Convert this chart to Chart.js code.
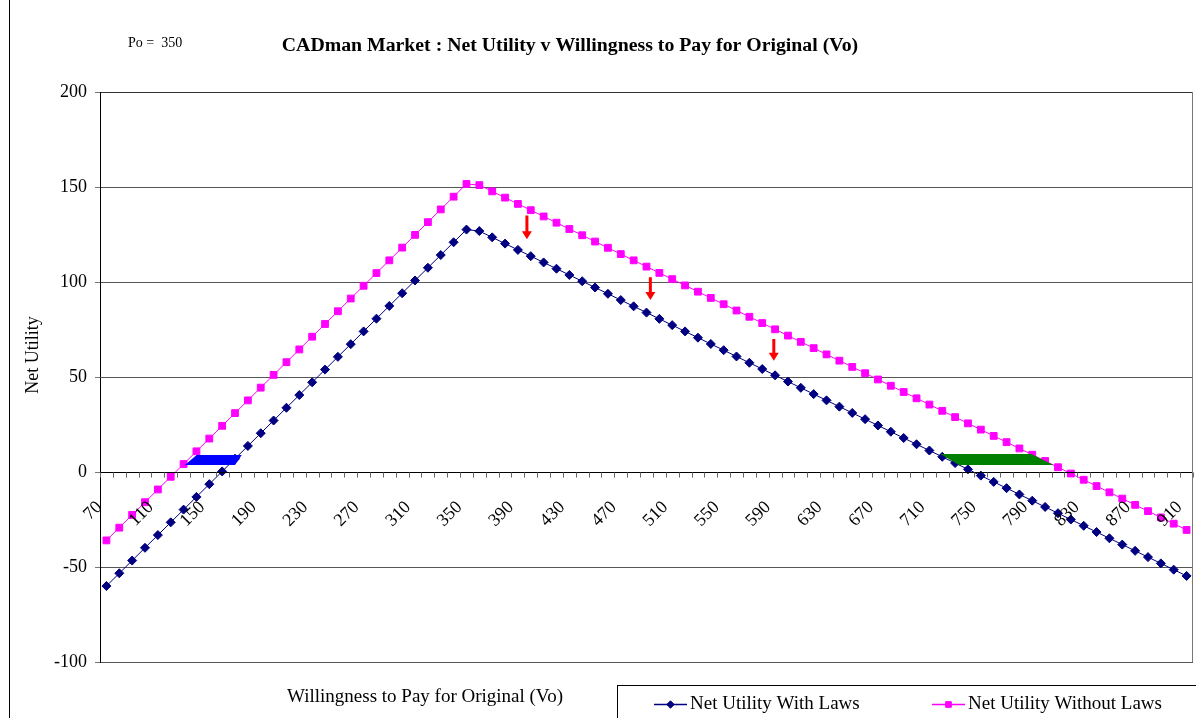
<!DOCTYPE html>
<html>
<head>
<meta charset="utf-8">
<script src="https://cdn.jsdelivr.net/npm/chart.js@4.4.0/dist/chart.umd.min.js"></script>
<style>
    html, body { margin: 0; padding: 0; background: #fff; }
    #wrap { width: 1196px; height: 718px; }
</style>
</head>
<body>
<div id="wrap"><canvas id="utility-chart" width="1196" height="718"></canvas></div>
<script>
// Willingness to pay for the original (Vo), one category every 10
const vo = [
    70, 80, 90, 100, 110, 120, 130, 140, 150, 160,
    170, 180, 190, 200, 210, 220, 230, 240, 250, 260,
    270, 280, 290, 300, 310, 320, 330, 340, 350, 360,
    370, 380, 390, 400, 410, 420, 430, 440, 450, 460,
    470, 480, 490, 500, 510, 520, 530, 540, 550, 560,
    570, 580, 590, 600, 610, 620, 630, 640, 650, 660,
    670, 680, 690, 700, 710, 720, 730, 740, 750, 760,
    770, 780, 790, 800, 810, 820, 830, 840, 850, 860,
    870, 880, 890, 900, 910,
];

const withLaws = [
    -60, -53.3, -46.6, -39.9, -33.2, -26.5, -19.8, -13.1, -6.4, 0.3,
    7, 13.7, 20.4, 27.1, 33.8, 40.5, 47.2, 53.9, 60.6, 67.3,
    74, 80.7, 87.4, 94.1, 100.8, 107.5, 114.2, 120.9, 127.6, 126.8,
    123.5, 120.2, 116.9, 113.6, 110.3, 107, 103.7, 100.4, 97.1, 93.8,
    90.5, 87.2, 83.9, 80.6, 77.3, 74, 70.7, 67.4, 64.1, 60.8,
    57.5, 54.2, 50.9, 47.6, 44.3, 41, 37.7, 34.4, 31.1, 27.8,
    24.5, 21.2, 17.9, 14.6, 11.3, 8, 4.7, 1.4, -1.9, -5.2,
    -8.5, -11.8, -15.1, -18.4, -21.7, -25, -28.3, -31.6, -34.9, -38.2,
    -41.5, -44.8, -48.1, -51.4, -54.7,
];

const withoutLaws = [
    -36, -29.3, -22.6, -15.9, -9.2, -2.5, 4.2, 10.9, 17.6, 24.3,
    31, 37.7, 44.4, 51.1, 57.8, 64.5, 71.2, 77.9, 84.6, 91.3,
    98, 104.7, 111.4, 118.1, 124.8, 131.5, 138.2, 144.9, 151.6, 151,
    147.7, 144.4, 141.1, 137.8, 134.5, 131.2, 127.9, 124.6, 121.3, 118,
    114.7, 111.4, 108.1, 104.8, 101.5, 98.2, 94.9, 91.6, 88.3, 85,
    81.7, 78.4, 75.1, 71.8, 68.5, 65.2, 61.9, 58.6, 55.3, 52,
    48.7, 45.4, 42.1, 38.8, 35.5, 32.2, 28.9, 25.6, 22.3, 19,
    15.7, 12.4, 9.1, 5.8, 2.5, -0.8, -4.1, -7.4, -10.7, -14,
    -17.3, -20.6, -23.9, -27.2, -30.5,
];

const xTickLabels = [
    "70", "110", "150", "190", "230", "270", "310", "350", "390", "430", "470",
    "510", "550", "590", "630", "670", "710", "750", "790", "830", "870", "910",
];
const yTicks = [-100, -50, 0, 50, 100, 150, 200];

// hand drawn marks on the original, in data units (Vo, net utility)
const blueBandVo = [131, 140.2, 175.2, 170];
const blueBandNet = [3.7, 8.9, 8.9, 3.7];
const greenBandVo = [733, 718.6, 789.3, 806.4];
const greenBandNet = [3.7, 9.5, 9.5, 3.7];
const arrowVo = [397, 493, 589];
const arrowFrom = [135, 102.5, 70];
const arrowTo = [122.5, 90.5, 58.5];

const colors = {
    navy: "#000080",
    magenta: "#ff00ff",
    blue: "#0000ff",
    green: "#008000",
    red: "#ff0000",
    grid: "#555555",
};
const serif = "'Liberation Serif', 'Times New Roman', serif";

function xAt(scale, v) {
    return scale.getPixelForValue((v - vo[0]) / (vo[1] - vo[0]));
}

const decorations = {
    id: "decorations",
    beforeDraw(chart) {
        const ctx = chart.ctx;
        ctx.save();
        ctx.fillStyle = "#fff";
        ctx.fillRect(0, 0, chart.width, chart.height);
        ctx.restore();
    },
    afterDatasetsDraw(chart) {
        const { ctx, chartArea: a, scales: { x, y } } = chart;
        const zeroY = Math.round(y.getPixelForValue(0)) + 0.5;
        ctx.save();

        // category axis crossing at zero
        ctx.strokeStyle = "#000";
        ctx.lineWidth = 1;
        ctx.beginPath();
        ctx.moveTo(a.left, zeroY);
        ctx.lineTo(a.right, zeroY);
        ctx.stroke();

        const step = (a.right - a.left) / vo.length;
        ctx.strokeStyle = "#666";
        ctx.beginPath();
        for (let i = 0; i <= vo.length; i++) {
            const px = Math.round(a.left + i * step) + 0.5;
            ctx.moveTo(px, zeroY);
            ctx.lineTo(px, zeroY + 5);
        }
        ctx.stroke();

        ctx.fillStyle = "#000";
        ctx.font = "18px " + serif;
        ctx.textAlign = "right";
        ctx.textBaseline = "middle";
        vo.forEach((v, i) => {
            if (!xTickLabels.includes(String(v))) return;
            const px = x.getPixelForValue(i);
            ctx.save();
            ctx.translate(px - 7, zeroY + 32);
            ctx.rotate(-Math.PI / 4);
            ctx.fillText(String(v), 0, 0);
            ctx.restore();
        });

        // shaded bands
        const band = (vs, ns, color) => {
            ctx.fillStyle = color;
            ctx.beginPath();
            vs.forEach((v, i) => {
                const px = xAt(x, v), py = y.getPixelForValue(ns[i]);
                if (i === 0) ctx.moveTo(px, py); else ctx.lineTo(px, py);
            });
            ctx.closePath();
            ctx.fill();
        };
        band(blueBandVo, blueBandNet, colors.blue);
        band(greenBandVo, greenBandNet, colors.green);

        // red arrows
        ctx.fillStyle = colors.red;
        arrowVo.forEach((v, i) => {
            const px = xAt(x, v);
            const y0 = y.getPixelForValue(arrowFrom[i]);
            const y1 = y.getPixelForValue(arrowTo[i]);
            ctx.fillRect(px - 1.5, y0, 3, y1 - y0 - 7);
            ctx.beginPath();
            ctx.moveTo(px - 5, y1 - 8);
            ctx.lineTo(px + 5, y1 - 8);
            ctx.lineTo(px, y1);
            ctx.closePath();
            ctx.fill();
        });
        ctx.restore();
    },
    afterDraw(chart) {
        const { ctx, chartArea: a } = chart;
        ctx.save();

        // plot frame on the right, outer frame on the left
        ctx.strokeStyle = "#777";
        ctx.lineWidth = 1;
        ctx.beginPath();
        ctx.moveTo(a.right - 0.5, a.top);
        ctx.lineTo(a.right - 0.5, a.bottom);
        ctx.stroke();
        ctx.strokeStyle = "#000";
        ctx.beginPath();
        ctx.moveTo(9.5, 0);
        ctx.lineTo(9.5, chart.height);
        ctx.stroke();

        ctx.fillStyle = "#000";
        ctx.textBaseline = "middle";

        ctx.font = "14px " + serif;
        ctx.textAlign = "left";
        ctx.fillText("Po =  350", 128, 43);

        ctx.font = "bold 19.8px " + serif;
        ctx.textAlign = "center";
        ctx.fillText("CADman Market : Net Utility v Willingness to Pay for Original (Vo)", 570, 46);

        ctx.font = "19px " + serif;
        ctx.fillText("Willingness to Pay for Original (Vo)", 425, 697);

        ctx.save();
        ctx.translate(33, 355);
        ctx.rotate(-Math.PI / 2);
        ctx.font = "18px " + serif;
        ctx.fillText("Net Utility", 0, 0);
        ctx.restore();

        // legend box
        ctx.strokeStyle = "#000";
        ctx.lineWidth = 1;
        ctx.strokeRect(617.5, 685.5, 700, 60);
        const items = [
            { text: "Net Utility With Laws", ds: 0, x: 654 },
            { text: "Net Utility Without Laws", ds: 1, x: 932 },
        ];
        ctx.textAlign = "left";
        ctx.font = "19px " + serif;
        items.forEach(it => {
            const d = chart.data.datasets[it.ds];
            const ly = 704.5;
            ctx.strokeStyle = d.borderColor;
            ctx.lineWidth = 1.5;
            ctx.beginPath();
            ctx.moveTo(it.x, ly);
            ctx.lineTo(it.x + 33, ly);
            ctx.stroke();
            ctx.fillStyle = d.backgroundColor;
            ctx.lineWidth = 1;
            Chart.helpers.drawPoint(ctx, {
                pointStyle: d.pointStyle, radius: d.pointRadius - 0.8, borderWidth: 1,
            }, it.x + 16.5, ly);
            ctx.fillStyle = "#000";
            ctx.fillText(it.text, it.x + 36, ly);
        });
        ctx.restore();
    },
};

new Chart(document.getElementById("utility-chart"), {
    type: "line",
    data: {
        labels: vo,
        datasets: [
            {
                label: "Net Utility With Laws",
                data: withLaws,
                borderColor: colors.navy,
                backgroundColor: colors.navy,
                borderWidth: 1,
                pointStyle: "rectRot",
                pointRadius: 4.5,
                pointBorderWidth: 1,
                tension: 0,
            },
            {
                label: "Net Utility Without Laws",
                data: withoutLaws,
                borderColor: colors.magenta,
                backgroundColor: colors.magenta,
                borderWidth: 1,
                pointStyle: "rect",
                pointRadius: 4.8,
                pointBorderWidth: 1,
                tension: 0,
            },
        ],
    },
    options: {
        responsive: false,
        animation: false,
        devicePixelRatio: 1,
        layout: { autoPadding: false, padding: { left: 0, top: 92, right: 3, bottom: 56 } },
        plugins: {
            legend: { display: false },
            title: { display: false },
            tooltip: { enabled: false },
        },
        scales: {
            x: {
                type: "category",
                display: false,
                offset: true,
            },
            y: {
                min: yTicks[0],
                max: yTicks[yTicks.length - 1],
                afterFit: s => { s.width = 100; },
                afterBuildTicks: s => { s.ticks = yTicks.map(v => ({ value: v })); },
                border: { display: true, color: "#000", width: 1 },
                grid: {
                    color: c => (c.tick && c.tick.value === 200 ? "#333" : colors.grid),
                    lineWidth: 1,
                    tickLength: 5,
                    tickColor: "#777",
                },
                ticks: {
                    color: "#000",
                    padding: 8,
                    font: { family: serif, size: 18 },
                },
            },
        },
    },
    plugins: [decorations],
});
</script>
</body>
</html>
